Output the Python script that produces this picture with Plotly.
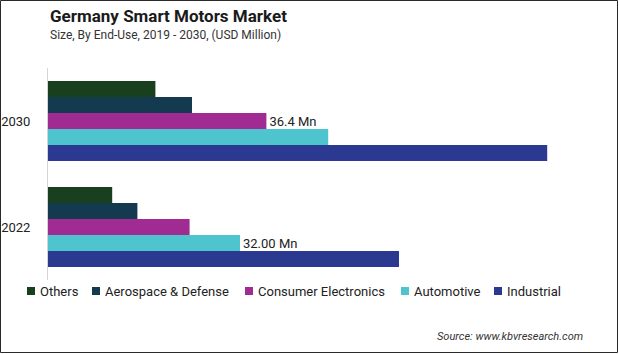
import plotly.graph_objects as go

# ---- data ----
categories = ["2030", "2022"]
series_names = ["Others", "Aerospace & Defense", "Consumer Electronics", "Automotive", "Industrial"]
others = [17.9, 10.7]
aerospace_defense = [24.0, 14.9]
consumer_electronics = [36.4, 23.6]
automotive = [46.7, 32.0]
industrial = [83.2, 58.5]
consumer_labels = ["36.4 Mn", ""]
automotive_labels = ["", "32.00 Mn"]

series_values = [others, aerospace_defense, consumer_electronics, automotive, industrial]
series_labels = [None, None, consumer_labels, automotive_labels, None]
colors = ["#18401e", "#143a50", "#a02b93", "#4ec4ce", "#2b3991"]

# ---- layout geometry ----
W, H = 619, 354
L, R, T, B = 48, 19, 68, 74
pw = W - L - R
ph = H - T - B
PX_PER_UNIT = 6.0


def px(x):
    return (x - L) / pw


def py(y):
    return (H - B - y) / ph


FONT = "Roboto"
fig = go.Figure()
for name, vals, labels, col in zip(series_names, series_values, series_labels, colors):
    fig.add_trace(go.Bar(
        y=categories, x=vals, orientation="h", name=name,
        marker=dict(color=col, line=dict(width=0)),
        text=labels, textposition="outside" if labels else "none",
        textfont=dict(family=FONT, size=13, color="#222222"),
        constraintext="none", cliponaxis=False, showlegend=False,
        hoverinfo="x+name",
    ))

shapes = []
annotations = []

# custom legend (compact, like the reference)
legend_x = [27, 92, 245, 401, 494]
for name, col, lx in zip(series_names, colors, legend_x):
    shapes.append(dict(type="rect", xref="paper", yref="paper",
                       x0=px(lx), x1=px(lx + 8), y0=py(295), y1=py(287),
                       fillcolor=col, line=dict(width=0)))
    annotations.append(dict(xref="paper", yref="paper", x=px(lx + 11), y=py(291),
                            xanchor="left", yanchor="middle", showarrow=False,
                            text=name, font=dict(family=FONT, size=13, color="#222222")))

# title / subtitle / source
annotations.append(dict(xref="paper", yref="paper", x=px(48), y=py(16),
                        xanchor="left", yanchor="middle", showarrow=False,
                        text="<b>Germany Smart Motors Market</b>",
                        font=dict(family=FONT, size=17, color="#1a1a1a")))
annotations.append(dict(xref="paper", yref="paper", x=px(48), y=py(35),
                        xanchor="left", yanchor="middle", showarrow=False,
                        text="Size, By End-Use, 2019 - 2030, (USD Million)",
                        font=dict(family=FONT, size=12, color="#333333")))
annotations.append(dict(xref="paper", yref="paper", x=px(585), y=py(336),
                        xanchor="right", yanchor="middle", showarrow=False,
                        text="<i>Source: www.kbvresearch.com</i>",
                        font=dict(family=FONT, size=11, color="#333333")))

# outer frame
shapes.append(dict(type="rect", xref="paper", yref="paper",
                   x0=px(0.5), x1=px(617.5), y0=py(352.5), y1=py(0.5),
                   line=dict(color="#2a2a2a", width=1), fillcolor="rgba(0,0,0,0)"))

fig.update_layout(
    width=W, height=H,
    margin=dict(l=L, r=R, t=T, b=B, pad=0, autoexpand=False),
    paper_bgcolor="white", plot_bgcolor="white",
    barmode="group", bargap=0.245, bargroupgap=0,
    showlegend=False,
    xaxis=dict(range=[0, pw / PX_PER_UNIT], visible=False, fixedrange=True,
               automargin=False),
    yaxis=dict(type="category", categoryorder="array", categoryarray=categories,
               autorange="reversed", showline=True, linecolor="#d4d4d4", linewidth=1,
               showgrid=False, zeroline=False, ticks="", ticklabelstandoff=14,
               automargin=False,
               tickfont=dict(family=FONT, size=13, color="#222222"), fixedrange=True),
    shapes=shapes, annotations=annotations,
)

fig.write_html("out.html")
